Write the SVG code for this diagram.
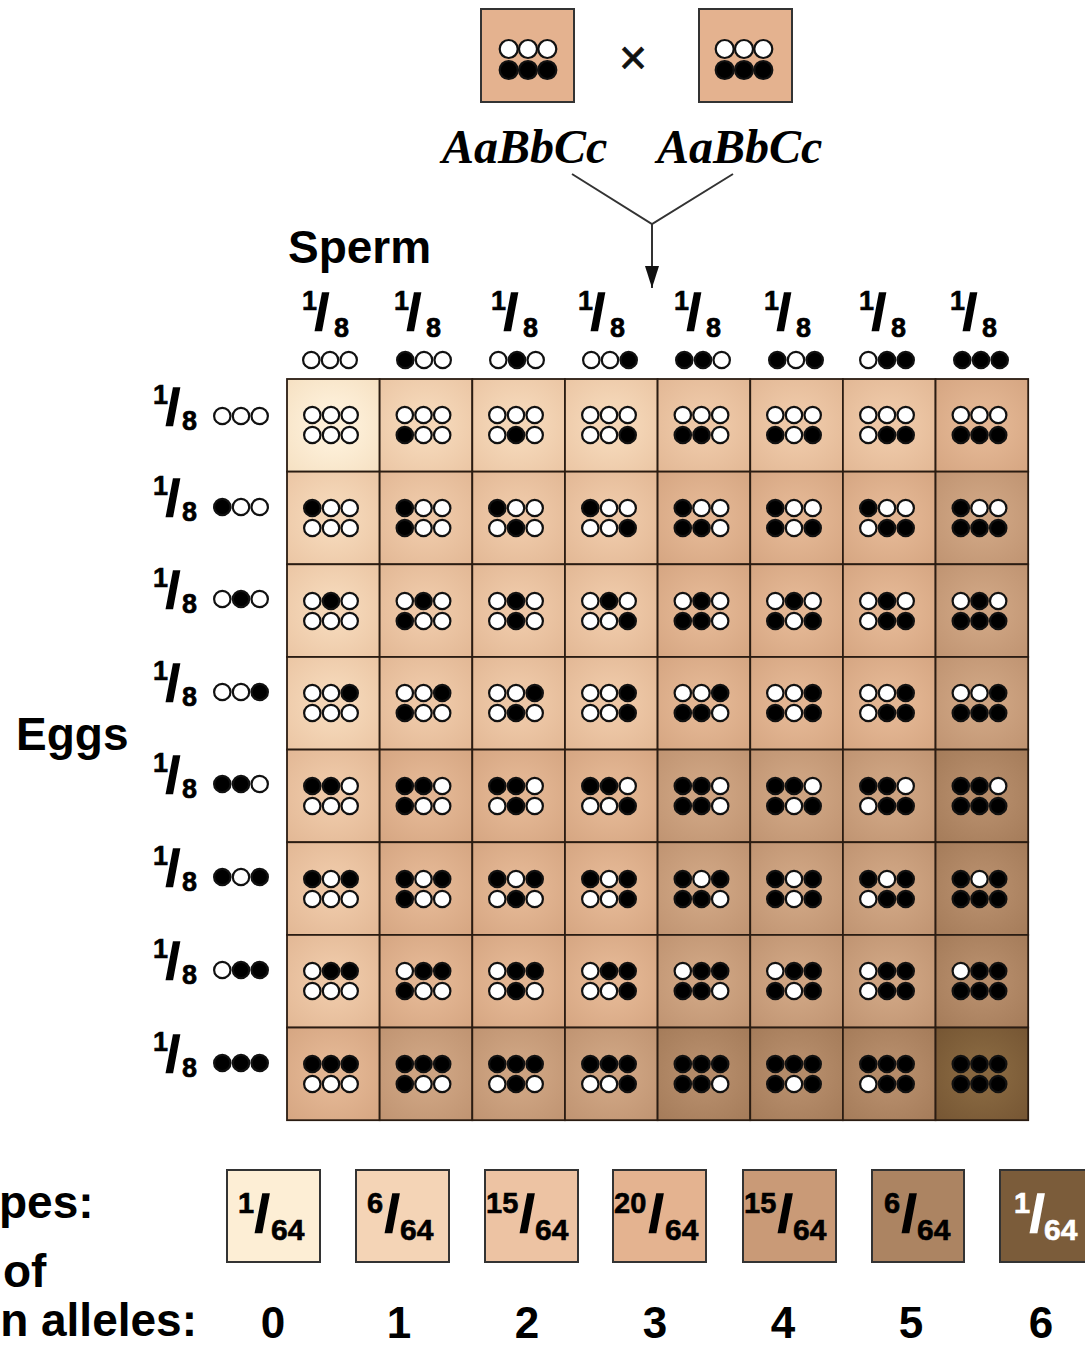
<svg xmlns="http://www.w3.org/2000/svg" xmlns:xlink="http://www.w3.org/1999/xlink" width="1085" height="1345" viewBox="0 0 1085 1345">
<style>
.w{fill:#fff;stroke:#111;stroke-width:2.2}
.b{fill:#000;stroke:#111;stroke-width:2.2}
.cell{stroke:#2a1c12;stroke-width:1.8}
.t{font-family:"Liberation Sans",Arial,sans-serif;font-weight:bold;fill:#000;stroke:#000;stroke-width:0}
.sl{font-size:50px;stroke-width:1.6px}
.nu{font-size:27px;stroke-width:0.6px}
.de{font-size:27px;stroke-width:0.6px}
.pn{font-size:29px;stroke-width:0.6px}
.pd{font-size:30px;stroke-width:0.6px}
.psl{font-size:52px;stroke-width:1.6px}
.big{font-size:46px}
.num{font-size:44px;text-anchor:middle}
.par{font-family:"Liberation Serif","Times New Roman",serif;font-weight:bold;font-style:italic;font-size:48px;fill:#000}
.pbox{stroke:#333;stroke-width:2}
.conn{fill:none;stroke:#333;stroke-width:2}
</style>
<defs>
<g id="p0"><circle class="w" cx="-18.7" r="8.2"/><circle class="w" r="8.2"/><circle class="w" cx="18.7" r="8.2"/></g>
<g id="p1"><circle class="b" cx="-18.7" r="8.2"/><circle class="w" r="8.2"/><circle class="w" cx="18.7" r="8.2"/></g>
<g id="p2"><circle class="w" cx="-18.7" r="8.2"/><circle class="b" r="8.2"/><circle class="w" cx="18.7" r="8.2"/></g>
<g id="p3"><circle class="w" cx="-18.7" r="8.2"/><circle class="w" r="8.2"/><circle class="b" cx="18.7" r="8.2"/></g>
<g id="p4"><circle class="b" cx="-18.7" r="8.2"/><circle class="b" r="8.2"/><circle class="w" cx="18.7" r="8.2"/></g>
<g id="p5"><circle class="b" cx="-18.7" r="8.2"/><circle class="w" r="8.2"/><circle class="b" cx="18.7" r="8.2"/></g>
<g id="p6"><circle class="w" cx="-18.7" r="8.2"/><circle class="b" r="8.2"/><circle class="b" cx="18.7" r="8.2"/></g>
<g id="p7"><circle class="b" cx="-18.7" r="8.2"/><circle class="b" r="8.2"/><circle class="b" cx="18.7" r="8.2"/></g>
<g id="q0"><circle class="w" cx="-19.3" r="9"/><circle class="w" r="9"/><circle class="w" cx="19.3" r="9"/></g>
<g id="q7"><circle class="b" cx="-19.3" r="9"/><circle class="b" r="9"/><circle class="b" cx="19.3" r="9"/></g>
<radialGradient id="k0" r="0.75"><stop offset="0.3" stop-color="#fdefd8"/><stop offset="1" stop-color="#f5dfc0"/></radialGradient>
<radialGradient id="k1" r="0.75"><stop offset="0.3" stop-color="#f4d6b7"/><stop offset="1" stop-color="#eac4a2"/></radialGradient>
<radialGradient id="k2" r="0.75"><stop offset="0.3" stop-color="#edc7a6"/><stop offset="1" stop-color="#e1b693"/></radialGradient>
<radialGradient id="k3" r="0.75"><stop offset="0.3" stop-color="#e2b592"/><stop offset="1" stop-color="#d4a480"/></radialGradient>
<radialGradient id="k4" r="0.75"><stop offset="0.3" stop-color="#cda381"/><stop offset="1" stop-color="#be9270"/></radialGradient>
<radialGradient id="k5" r="0.75"><stop offset="0.3" stop-color="#b48b69"/><stop offset="1" stop-color="#a37a58"/></radialGradient>
<radialGradient id="k6" r="0.75"><stop offset="0.3" stop-color="#86663f"/><stop offset="1" stop-color="#745432"/></radialGradient>
<marker id="ah" viewBox="0 0 22 14" refX="22" refY="7" markerWidth="22" markerHeight="14" markerUnits="userSpaceOnUse" orient="auto"><path d="M0,0 L22,7 L0,14 z" fill="#111"/></marker>
</defs>
<rect width="1085" height="1345" fill="#fff"/>

<!-- parents -->
<g id="parent1"><rect class="pbox" x="481" y="9" width="93" height="93" fill="#e4b28f"/><use href="#q0" x="528" y="49"/><use href="#q7" x="528" y="70"/></g>
<g id="parent2"><rect class="pbox" x="699" y="9" width="93" height="93" fill="#e4b28f"/><use href="#q0" x="744" y="49"/><use href="#q7" x="744" y="70"/></g>
<text x="633" y="74" font-family="Liberation Sans, Arial, sans-serif" font-size="48" text-anchor="middle" fill="#111" stroke="#111" stroke-width="0.8">×</text>
<text class="par" x="442" y="163">AaBbCc</text>
<text class="par" x="657" y="163">AaBbCc</text>

<g id="connectors">
<path class="conn" d="M572,174 L652,224 L733,174"/>
<line class="conn" x1="652" y1="224" x2="652" y2="288" marker-end="url(#ah)"/>
</g>

<text class="t big" x="288" y="263">Sperm</text>
<text class="t big" x="16" y="750">Eggs</text>

<!-- column headers -->
<g id="sperm-headers">
<text class="t"><tspan class="nu" x="302" y="310">1</tspan><tspan class="sl" x="315" y="329">/</tspan><tspan class="de" x="334" y="337">8</tspan></text>
<text class="t"><tspan class="nu" x="394" y="310">1</tspan><tspan class="sl" x="407" y="329">/</tspan><tspan class="de" x="426" y="337">8</tspan></text>
<text class="t"><tspan class="nu" x="491" y="310">1</tspan><tspan class="sl" x="504" y="329">/</tspan><tspan class="de" x="523" y="337">8</tspan></text>
<text class="t"><tspan class="nu" x="578" y="310">1</tspan><tspan class="sl" x="591" y="329">/</tspan><tspan class="de" x="610" y="337">8</tspan></text>
<text class="t"><tspan class="nu" x="674" y="310">1</tspan><tspan class="sl" x="687" y="329">/</tspan><tspan class="de" x="706" y="337">8</tspan></text>
<text class="t"><tspan class="nu" x="764" y="310">1</tspan><tspan class="sl" x="777" y="329">/</tspan><tspan class="de" x="796" y="337">8</tspan></text>
<text class="t"><tspan class="nu" x="859" y="310">1</tspan><tspan class="sl" x="872" y="329">/</tspan><tspan class="de" x="891" y="337">8</tspan></text>
<text class="t"><tspan class="nu" x="950" y="310">1</tspan><tspan class="sl" x="963" y="329">/</tspan><tspan class="de" x="982" y="337">8</tspan></text>
<use href="#p0" x="330" y="360"/><use href="#p1" x="424" y="360"/><use href="#p2" x="517" y="360"/><use href="#p3" x="610" y="360"/>
<use href="#p4" x="703" y="360"/><use href="#p5" x="796" y="360"/><use href="#p6" x="887" y="360"/><use href="#p7" x="981" y="360"/>
</g>

<!-- row labels -->
<g id="egg-labels">
<text class="t"><tspan class="nu" x="153" y="404">1</tspan><tspan class="sl" x="166" y="424">/</tspan><tspan class="de" x="182" y="430">8</tspan></text>
<text class="t"><tspan class="nu" x="153" y="495">1</tspan><tspan class="sl" x="166" y="515">/</tspan><tspan class="de" x="182" y="521">8</tspan></text>
<text class="t"><tspan class="nu" x="153" y="587">1</tspan><tspan class="sl" x="166" y="607">/</tspan><tspan class="de" x="182" y="613">8</tspan></text>
<text class="t"><tspan class="nu" x="153" y="680">1</tspan><tspan class="sl" x="166" y="700">/</tspan><tspan class="de" x="182" y="706">8</tspan></text>
<text class="t"><tspan class="nu" x="153" y="772">1</tspan><tspan class="sl" x="166" y="792">/</tspan><tspan class="de" x="182" y="798">8</tspan></text>
<text class="t"><tspan class="nu" x="153" y="865">1</tspan><tspan class="sl" x="166" y="885">/</tspan><tspan class="de" x="182" y="891">8</tspan></text>
<text class="t"><tspan class="nu" x="153" y="958">1</tspan><tspan class="sl" x="166" y="978">/</tspan><tspan class="de" x="182" y="984">8</tspan></text>
<text class="t"><tspan class="nu" x="153" y="1051">1</tspan><tspan class="sl" x="166" y="1071">/</tspan><tspan class="de" x="182" y="1077">8</tspan></text>
<use href="#p0" x="241" y="416"/><use href="#p1" x="241" y="507"/><use href="#p2" x="241" y="599"/><use href="#p3" x="241" y="692"/>
<use href="#p4" x="241" y="784"/><use href="#p5" x="241" y="877"/><use href="#p6" x="241" y="970"/><use href="#p7" x="241" y="1063"/>
</g>

<!-- Punnett grid -->
<g id="grid">
<!-- row 0 -->
<g id="cell-0-0"><rect class="cell" x="287" y="379" width="92.65" height="92.65" fill="url(#k0)"/><use href="#p0" x="331" y="415"/><use href="#p0" x="331" y="435"/></g>
<g id="cell-0-1"><rect class="cell" x="379.65" y="379" width="92.65" height="92.65" fill="url(#k1)"/><use href="#p0" x="423.5" y="415"/><use href="#p1" x="423.5" y="435"/></g>
<g id="cell-0-2"><rect class="cell" x="472.3" y="379" width="92.65" height="92.65" fill="url(#k1)"/><use href="#p0" x="516" y="415"/><use href="#p2" x="516" y="435"/></g>
<g id="cell-0-3"><rect class="cell" x="564.95" y="379" width="92.65" height="92.65" fill="url(#k1)"/><use href="#p0" x="609" y="415"/><use href="#p3" x="609" y="435"/></g>
<g id="cell-0-4"><rect class="cell" x="657.6" y="379" width="92.65" height="92.65" fill="url(#k2)"/><use href="#p0" x="701.5" y="415"/><use href="#p4" x="701.5" y="435"/></g>
<g id="cell-0-5"><rect class="cell" x="750.25" y="379" width="92.65" height="92.65" fill="url(#k2)"/><use href="#p0" x="794" y="415"/><use href="#p5" x="794" y="435"/></g>
<g id="cell-0-6"><rect class="cell" x="842.9" y="379" width="92.65" height="92.65" fill="url(#k2)"/><use href="#p0" x="887" y="415"/><use href="#p6" x="887" y="435"/></g>
<g id="cell-0-7"><rect class="cell" x="935.55" y="379" width="92.65" height="92.65" fill="url(#k3)"/><use href="#p0" x="979.5" y="415"/><use href="#p7" x="979.5" y="435"/></g>
<!-- row 1 -->
<g id="cell-1-0"><rect class="cell" x="287" y="471.65" width="92.65" height="92.65" fill="url(#k1)"/><use href="#p1" x="331" y="508"/><use href="#p0" x="331" y="528"/></g>
<g id="cell-1-1"><rect class="cell" x="379.65" y="471.65" width="92.65" height="92.65" fill="url(#k2)"/><use href="#p1" x="423.5" y="508"/><use href="#p1" x="423.5" y="528"/></g>
<g id="cell-1-2"><rect class="cell" x="472.3" y="471.65" width="92.65" height="92.65" fill="url(#k2)"/><use href="#p1" x="516" y="508"/><use href="#p2" x="516" y="528"/></g>
<g id="cell-1-3"><rect class="cell" x="564.95" y="471.65" width="92.65" height="92.65" fill="url(#k2)"/><use href="#p1" x="609" y="508"/><use href="#p3" x="609" y="528"/></g>
<g id="cell-1-4"><rect class="cell" x="657.6" y="471.65" width="92.65" height="92.65" fill="url(#k3)"/><use href="#p1" x="701.5" y="508"/><use href="#p4" x="701.5" y="528"/></g>
<g id="cell-1-5"><rect class="cell" x="750.25" y="471.65" width="92.65" height="92.65" fill="url(#k3)"/><use href="#p1" x="794" y="508"/><use href="#p5" x="794" y="528"/></g>
<g id="cell-1-6"><rect class="cell" x="842.9" y="471.65" width="92.65" height="92.65" fill="url(#k3)"/><use href="#p1" x="887" y="508"/><use href="#p6" x="887" y="528"/></g>
<g id="cell-1-7"><rect class="cell" x="935.55" y="471.65" width="92.65" height="92.65" fill="url(#k4)"/><use href="#p1" x="979.5" y="508"/><use href="#p7" x="979.5" y="528"/></g>
<!-- row 2 -->
<g id="cell-2-0"><rect class="cell" x="287" y="564.3" width="92.65" height="92.65" fill="url(#k1)"/><use href="#p2" x="331" y="601"/><use href="#p0" x="331" y="621"/></g>
<g id="cell-2-1"><rect class="cell" x="379.65" y="564.3" width="92.65" height="92.65" fill="url(#k2)"/><use href="#p2" x="423.5" y="601"/><use href="#p1" x="423.5" y="621"/></g>
<g id="cell-2-2"><rect class="cell" x="472.3" y="564.3" width="92.65" height="92.65" fill="url(#k2)"/><use href="#p2" x="516" y="601"/><use href="#p2" x="516" y="621"/></g>
<g id="cell-2-3"><rect class="cell" x="564.95" y="564.3" width="92.65" height="92.65" fill="url(#k2)"/><use href="#p2" x="609" y="601"/><use href="#p3" x="609" y="621"/></g>
<g id="cell-2-4"><rect class="cell" x="657.6" y="564.3" width="92.65" height="92.65" fill="url(#k3)"/><use href="#p2" x="701.5" y="601"/><use href="#p4" x="701.5" y="621"/></g>
<g id="cell-2-5"><rect class="cell" x="750.25" y="564.3" width="92.65" height="92.65" fill="url(#k3)"/><use href="#p2" x="794" y="601"/><use href="#p5" x="794" y="621"/></g>
<g id="cell-2-6"><rect class="cell" x="842.9" y="564.3" width="92.65" height="92.65" fill="url(#k3)"/><use href="#p2" x="887" y="601"/><use href="#p6" x="887" y="621"/></g>
<g id="cell-2-7"><rect class="cell" x="935.55" y="564.3" width="92.65" height="92.65" fill="url(#k4)"/><use href="#p2" x="979.5" y="601"/><use href="#p7" x="979.5" y="621"/></g>
<!-- row 3 -->
<g id="cell-3-0"><rect class="cell" x="287" y="656.95" width="92.65" height="92.65" fill="url(#k1)"/><use href="#p3" x="331" y="693"/><use href="#p0" x="331" y="713"/></g>
<g id="cell-3-1"><rect class="cell" x="379.65" y="656.95" width="92.65" height="92.65" fill="url(#k2)"/><use href="#p3" x="423.5" y="693"/><use href="#p1" x="423.5" y="713"/></g>
<g id="cell-3-2"><rect class="cell" x="472.3" y="656.95" width="92.65" height="92.65" fill="url(#k2)"/><use href="#p3" x="516" y="693"/><use href="#p2" x="516" y="713"/></g>
<g id="cell-3-3"><rect class="cell" x="564.95" y="656.95" width="92.65" height="92.65" fill="url(#k2)"/><use href="#p3" x="609" y="693"/><use href="#p3" x="609" y="713"/></g>
<g id="cell-3-4"><rect class="cell" x="657.6" y="656.95" width="92.65" height="92.65" fill="url(#k3)"/><use href="#p3" x="701.5" y="693"/><use href="#p4" x="701.5" y="713"/></g>
<g id="cell-3-5"><rect class="cell" x="750.25" y="656.95" width="92.65" height="92.65" fill="url(#k3)"/><use href="#p3" x="794" y="693"/><use href="#p5" x="794" y="713"/></g>
<g id="cell-3-6"><rect class="cell" x="842.9" y="656.95" width="92.65" height="92.65" fill="url(#k3)"/><use href="#p3" x="887" y="693"/><use href="#p6" x="887" y="713"/></g>
<g id="cell-3-7"><rect class="cell" x="935.55" y="656.95" width="92.65" height="92.65" fill="url(#k4)"/><use href="#p3" x="979.5" y="693"/><use href="#p7" x="979.5" y="713"/></g>
<!-- row 4 -->
<g id="cell-4-0"><rect class="cell" x="287" y="749.6" width="92.65" height="92.65" fill="url(#k2)"/><use href="#p4" x="331" y="786"/><use href="#p0" x="331" y="806"/></g>
<g id="cell-4-1"><rect class="cell" x="379.65" y="749.6" width="92.65" height="92.65" fill="url(#k3)"/><use href="#p4" x="423.5" y="786"/><use href="#p1" x="423.5" y="806"/></g>
<g id="cell-4-2"><rect class="cell" x="472.3" y="749.6" width="92.65" height="92.65" fill="url(#k3)"/><use href="#p4" x="516" y="786"/><use href="#p2" x="516" y="806"/></g>
<g id="cell-4-3"><rect class="cell" x="564.95" y="749.6" width="92.65" height="92.65" fill="url(#k3)"/><use href="#p4" x="609" y="786"/><use href="#p3" x="609" y="806"/></g>
<g id="cell-4-4"><rect class="cell" x="657.6" y="749.6" width="92.65" height="92.65" fill="url(#k4)"/><use href="#p4" x="701.5" y="786"/><use href="#p4" x="701.5" y="806"/></g>
<g id="cell-4-5"><rect class="cell" x="750.25" y="749.6" width="92.65" height="92.65" fill="url(#k4)"/><use href="#p4" x="794" y="786"/><use href="#p5" x="794" y="806"/></g>
<g id="cell-4-6"><rect class="cell" x="842.9" y="749.6" width="92.65" height="92.65" fill="url(#k4)"/><use href="#p4" x="887" y="786"/><use href="#p6" x="887" y="806"/></g>
<g id="cell-4-7"><rect class="cell" x="935.55" y="749.6" width="92.65" height="92.65" fill="url(#k5)"/><use href="#p4" x="979.5" y="786"/><use href="#p7" x="979.5" y="806"/></g>
<!-- row 5 -->
<g id="cell-5-0"><rect class="cell" x="287" y="842.25" width="92.65" height="92.65" fill="url(#k2)"/><use href="#p5" x="331" y="879"/><use href="#p0" x="331" y="899"/></g>
<g id="cell-5-1"><rect class="cell" x="379.65" y="842.25" width="92.65" height="92.65" fill="url(#k3)"/><use href="#p5" x="423.5" y="879"/><use href="#p1" x="423.5" y="899"/></g>
<g id="cell-5-2"><rect class="cell" x="472.3" y="842.25" width="92.65" height="92.65" fill="url(#k3)"/><use href="#p5" x="516" y="879"/><use href="#p2" x="516" y="899"/></g>
<g id="cell-5-3"><rect class="cell" x="564.95" y="842.25" width="92.65" height="92.65" fill="url(#k3)"/><use href="#p5" x="609" y="879"/><use href="#p3" x="609" y="899"/></g>
<g id="cell-5-4"><rect class="cell" x="657.6" y="842.25" width="92.65" height="92.65" fill="url(#k4)"/><use href="#p5" x="701.5" y="879"/><use href="#p4" x="701.5" y="899"/></g>
<g id="cell-5-5"><rect class="cell" x="750.25" y="842.25" width="92.65" height="92.65" fill="url(#k4)"/><use href="#p5" x="794" y="879"/><use href="#p5" x="794" y="899"/></g>
<g id="cell-5-6"><rect class="cell" x="842.9" y="842.25" width="92.65" height="92.65" fill="url(#k4)"/><use href="#p5" x="887" y="879"/><use href="#p6" x="887" y="899"/></g>
<g id="cell-5-7"><rect class="cell" x="935.55" y="842.25" width="92.65" height="92.65" fill="url(#k5)"/><use href="#p5" x="979.5" y="879"/><use href="#p7" x="979.5" y="899"/></g>
<!-- row 6 -->
<g id="cell-6-0"><rect class="cell" x="287" y="934.9" width="92.65" height="92.65" fill="url(#k2)"/><use href="#p6" x="331" y="971"/><use href="#p0" x="331" y="991"/></g>
<g id="cell-6-1"><rect class="cell" x="379.65" y="934.9" width="92.65" height="92.65" fill="url(#k3)"/><use href="#p6" x="423.5" y="971"/><use href="#p1" x="423.5" y="991"/></g>
<g id="cell-6-2"><rect class="cell" x="472.3" y="934.9" width="92.65" height="92.65" fill="url(#k3)"/><use href="#p6" x="516" y="971"/><use href="#p2" x="516" y="991"/></g>
<g id="cell-6-3"><rect class="cell" x="564.95" y="934.9" width="92.65" height="92.65" fill="url(#k3)"/><use href="#p6" x="609" y="971"/><use href="#p3" x="609" y="991"/></g>
<g id="cell-6-4"><rect class="cell" x="657.6" y="934.9" width="92.65" height="92.65" fill="url(#k4)"/><use href="#p6" x="701.5" y="971"/><use href="#p4" x="701.5" y="991"/></g>
<g id="cell-6-5"><rect class="cell" x="750.25" y="934.9" width="92.65" height="92.65" fill="url(#k4)"/><use href="#p6" x="794" y="971"/><use href="#p5" x="794" y="991"/></g>
<g id="cell-6-6"><rect class="cell" x="842.9" y="934.9" width="92.65" height="92.65" fill="url(#k4)"/><use href="#p6" x="887" y="971"/><use href="#p6" x="887" y="991"/></g>
<g id="cell-6-7"><rect class="cell" x="935.55" y="934.9" width="92.65" height="92.65" fill="url(#k5)"/><use href="#p6" x="979.5" y="971"/><use href="#p7" x="979.5" y="991"/></g>
<!-- row 7 -->
<g id="cell-7-0"><rect class="cell" x="287" y="1027.55" width="92.65" height="92.65" fill="url(#k3)"/><use href="#p7" x="331" y="1064"/><use href="#p0" x="331" y="1084"/></g>
<g id="cell-7-1"><rect class="cell" x="379.65" y="1027.55" width="92.65" height="92.65" fill="url(#k4)"/><use href="#p7" x="423.5" y="1064"/><use href="#p1" x="423.5" y="1084"/></g>
<g id="cell-7-2"><rect class="cell" x="472.3" y="1027.55" width="92.65" height="92.65" fill="url(#k4)"/><use href="#p7" x="516" y="1064"/><use href="#p2" x="516" y="1084"/></g>
<g id="cell-7-3"><rect class="cell" x="564.95" y="1027.55" width="92.65" height="92.65" fill="url(#k4)"/><use href="#p7" x="609" y="1064"/><use href="#p3" x="609" y="1084"/></g>
<g id="cell-7-4"><rect class="cell" x="657.6" y="1027.55" width="92.65" height="92.65" fill="url(#k5)"/><use href="#p7" x="701.5" y="1064"/><use href="#p4" x="701.5" y="1084"/></g>
<g id="cell-7-5"><rect class="cell" x="750.25" y="1027.55" width="92.65" height="92.65" fill="url(#k5)"/><use href="#p7" x="794" y="1064"/><use href="#p5" x="794" y="1084"/></g>
<g id="cell-7-6"><rect class="cell" x="842.9" y="1027.55" width="92.65" height="92.65" fill="url(#k5)"/><use href="#p7" x="887" y="1064"/><use href="#p6" x="887" y="1084"/></g>
<g id="cell-7-7"><rect class="cell" x="935.55" y="1027.55" width="92.65" height="92.65" fill="url(#k6)"/><use href="#p7" x="979.5" y="1064"/><use href="#p7" x="979.5" y="1084"/></g>
</g>

<!-- phenotype boxes -->
<g id="pheno-0"><rect class="pbox" x="227" y="1170" width="93" height="92" fill="#fdeed5"/><text class="t"><tspan class="pn" x="238" y="1213">1</tspan><tspan class="psl" x="255" y="1232">/</tspan><tspan class="pd" x="271" y="1240">64</tspan></text></g>
<g id="pheno-1"><rect class="pbox" x="356" y="1170" width="93" height="92" fill="#f4d4b6"/><text class="t"><tspan class="pn" x="367" y="1213">6</tspan><tspan class="psl" x="385" y="1232">/</tspan><tspan class="pd" x="400" y="1240">64</tspan></text></g>
<g id="pheno-2"><rect class="pbox" x="485" y="1170" width="93" height="92" fill="#edc3a3"/><text class="t"><tspan class="pn" x="486" y="1213">15</tspan><tspan class="psl" x="520" y="1232">/</tspan><tspan class="pd" x="535" y="1240">64</tspan></text></g>
<g id="pheno-3"><rect class="pbox" x="613" y="1170" width="93" height="92" fill="#e4b390"/><text class="t"><tspan class="pn" x="614" y="1213">20</tspan><tspan class="psl" x="649" y="1232">/</tspan><tspan class="pd" x="665" y="1240">64</tspan></text></g>
<g id="pheno-4"><rect class="pbox" x="743" y="1170" width="93" height="92" fill="#c99a77"/><text class="t"><tspan class="pn" x="744" y="1213">15</tspan><tspan class="psl" x="778" y="1232">/</tspan><tspan class="pd" x="793" y="1240">64</tspan></text></g>
<g id="pheno-5"><rect class="pbox" x="872" y="1170" width="92" height="92" fill="#ac8462"/><text class="t"><tspan class="pn" x="884" y="1213">6</tspan><tspan class="psl" x="902" y="1232">/</tspan><tspan class="pd" x="917" y="1240">64</tspan></text></g>
<g id="pheno-6"><rect class="pbox" x="1000" y="1170" width="93" height="92" fill="#7b5c3a"/><text class="t" style="fill:#fff;stroke:#fff"><tspan class="pn" x="1014" y="1213">1</tspan><tspan class="psl" x="1030" y="1232">/</tspan><tspan class="pd" x="1044" y="1240">64</tspan></text></g>

<text class="t big" x="-1" y="1218">pes:</text>
<text class="t big" x="3" y="1287">of</text>
<text class="t big" x="197" y="1336" text-anchor="end">n alleles:</text>

<text class="t num" x="273" y="1338">0</text>
<text class="t num" x="399" y="1338">1</text>
<text class="t num" x="527" y="1338">2</text>
<text class="t num" x="655" y="1338">3</text>
<text class="t num" x="783" y="1338">4</text>
<text class="t num" x="911" y="1338">5</text>
<text class="t num" x="1041" y="1338">6</text>
</svg>
